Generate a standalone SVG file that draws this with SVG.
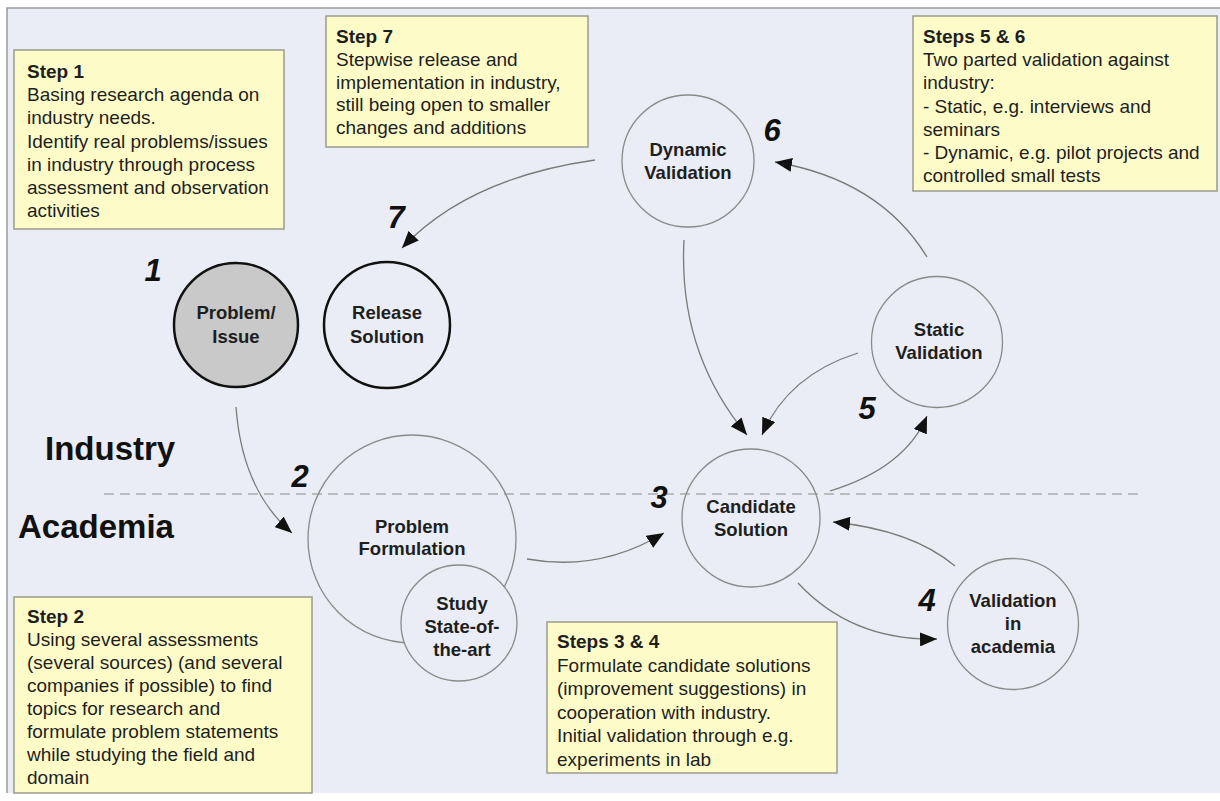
<svg xmlns="http://www.w3.org/2000/svg" width="1220" height="801" viewBox="0 0 1220 801">
<style>
.box{fill:#fdfcc9;stroke:#9a9a8c;stroke-width:1.5}
.bt{font-family:"Liberation Sans",Arial,sans-serif;font-size:19px;fill:#1e1e1e}
.bh{font-weight:bold}
.node{fill:none;stroke:#8a8a8a;stroke-width:1.3}
.nt{font-family:"Liberation Sans",Arial,sans-serif;font-size:18.5px;font-weight:bold;fill:#1e1e1e;text-anchor:middle}
.num{font-family:"Liberation Sans",Arial,sans-serif;font-size:31px;font-weight:bold;font-style:italic;fill:#111;text-anchor:middle}
.zone{font-family:"Liberation Sans",Arial,sans-serif;font-size:33px;font-weight:bold;fill:#111}
.conn{fill:none;stroke:#7a7a7a;stroke-width:1.3}
</style>
<defs>
<marker id="ah" markerUnits="userSpaceOnUse" markerWidth="18" markerHeight="14" refX="17" refY="7" orient="auto">
<path d="M0,0 L17,7 L0,14 z" fill="#111"/>
</marker>
</defs>
<rect x="0" y="0" width="1220" height="801" fill="#ffffff"/>
<rect x="7" y="8" width="1220" height="785" fill="#eaedf5"/>
<path d="M7,793 L7,8 L1220,8" fill="none" stroke="#9a9a9a" stroke-width="1.5"/>

<line x1="104" y1="494" x2="1138" y2="494" stroke="#8a8a8a" stroke-width="1.2" stroke-dasharray="10,6"/>
<text class="zone" x="45" y="460">Industry</text>
<text class="zone" x="18" y="538">Academia</text>

<g id="box-step1">
<rect class="box" x="14" y="50" width="270" height="179"/>
<text class="bt" x="27" y="78"><tspan class="bh">Step 1</tspan><tspan x="27" dy="23.2">Basing research agenda on</tspan><tspan x="27" dy="23.2">industry needs.</tspan><tspan x="27" dy="23.2">Identify real problems/issues</tspan><tspan x="27" dy="23.2">in industry through process</tspan><tspan x="27" dy="23.2">assessment and observation</tspan><tspan x="27" dy="23.2">activities</tspan></text>
</g>
<g id="box-step7">
<rect class="box" x="326" y="16" width="262" height="131"/>
<text class="bt" x="336" y="43"><tspan class="bh">Step 7</tspan><tspan x="336" dy="22.8">Stepwise release and</tspan><tspan x="336" dy="22.8">implementation in industry,</tspan><tspan x="336" dy="22.8">still being open to smaller</tspan><tspan x="336" dy="22.8">changes and additions</tspan></text>
</g>
<g id="box-step56">
<rect class="box" x="913" y="16" width="304" height="175"/>
<text class="bt" x="923" y="43"><tspan class="bh">Steps 5 &amp; 6</tspan><tspan x="923" dy="23.2">Two parted validation against</tspan><tspan x="923" dy="23.2">industry:</tspan><tspan x="923" dy="23.2">- Static, e.g. interviews and</tspan><tspan x="923" dy="23.2">seminars</tspan><tspan x="923" dy="23.2">- Dynamic, e.g. pilot projects and</tspan><tspan x="923" dy="23.2">controlled small tests</tspan></text>
</g>
<g id="box-step2">
<rect class="box" x="14" y="597" width="298" height="196"/>
<text class="bt" x="27" y="623"><tspan class="bh">Step 2</tspan><tspan x="27" dy="23">Using several assessments</tspan><tspan x="27" dy="23">(several sources) (and several</tspan><tspan x="27" dy="23">companies if possible) to find</tspan><tspan x="27" dy="23">topics for research and</tspan><tspan x="27" dy="23">formulate problem statements</tspan><tspan x="27" dy="23">while studying the field and</tspan><tspan x="27" dy="23">domain</tspan></text>
</g>
<g id="box-step34">
<rect class="box" x="547" y="622" width="290" height="151"/>
<text class="bt" x="557" y="648"><tspan class="bh">Steps 3 &amp; 4</tspan><tspan x="557" dy="23.5">Formulate candidate solutions</tspan><tspan x="557" dy="23.5">(improvement suggestions) in</tspan><tspan x="557" dy="23.5">cooperation with industry.</tspan><tspan x="557" dy="23.5">Initial validation through e.g.</tspan><tspan x="557" dy="23.5">experiments in lab</tspan></text>
</g>

<g id="connectors">
<path class="conn" d="M236,407 Q242,490 292,533" marker-end="url(#ah)"/>
<path class="conn" d="M527,559 Q600,572 664,533" marker-end="url(#ah)"/>
<path class="conn" d="M830,491 Q905,468 927,416" marker-end="url(#ah)"/>
<path class="conn" d="M927,257 Q880,180 775,162" marker-end="url(#ah)"/>
<path class="conn" d="M684,240 Q678,352 747,435" marker-end="url(#ah)"/>
<path class="conn" d="M858,353 Q788,375 762,435" marker-end="url(#ah)"/>
<path class="conn" d="M595,160 Q468,178 402,248" marker-end="url(#ah)"/>
<path class="conn" d="M798,583 Q852,641 937,639" marker-end="url(#ah)"/>
<path class="conn" d="M955,566 Q912,530 833,522" marker-end="url(#ah)"/>
</g>

<g id="node-problem-issue">
<circle cx="236" cy="325" r="62" fill="#c9c9c9" stroke="#111" stroke-width="2.5"/>
<text class="nt" x="236" y="319">Problem/</text>
<text class="nt" x="236" y="343">Issue</text>
</g>
<g id="node-release">
<circle cx="387" cy="325" r="63" fill="none" stroke="#111" stroke-width="2.5"/>
<text class="nt" x="387" y="319">Release</text>
<text class="nt" x="387" y="343">Solution</text>
</g>
<g id="node-dynamic">
<circle class="node" cx="688" cy="161" r="66"/>
<text class="nt" x="688" y="156">Dynamic</text>
<text class="nt" x="688" y="179">Validation</text>
</g>
<g id="node-static">
<circle class="node" cx="937" cy="342" r="65.5"/>
<text class="nt" x="939" y="336">Static</text>
<text class="nt" x="939" y="359">Validation</text>
</g>
<g id="node-candidate">
<circle class="node" cx="751" cy="518" r="69"/>
<text class="nt" x="751" y="513">Candidate</text>
<text class="nt" x="751" y="536">Solution</text>
</g>
<g id="node-validation-academia">
<circle class="node" cx="1013" cy="624" r="65.5"/>
<text class="nt" x="1013" y="607">Validation</text>
<text class="nt" x="1013" y="630">in</text>
<text class="nt" x="1013" y="653">academia</text>
</g>
<g id="node-problem-formulation">
<circle class="node" cx="412" cy="539" r="104"/>
<text class="nt" x="412" y="533">Problem</text>
<text class="nt" x="412" y="555">Formulation</text>
</g>
<g id="node-study">
<circle cx="459" cy="623" r="58" fill="#eaedf5" stroke="#8a8a8a" stroke-width="1.3"/>
<text class="nt" x="462" y="610">Study</text>
<text class="nt" x="462" y="633">State-of-</text>
<text class="nt" x="462" y="656">the-art</text>
</g>

<g id="step-numbers">
<text class="num" x="153" y="281">1</text>
<text class="num" x="300" y="487">2</text>
<text class="num" x="659" y="508">3</text>
<text class="num" x="927" y="611">4</text>
<text class="num" x="867" y="419">5</text>
<text class="num" x="772" y="141">6</text>
<text class="num" x="396" y="228">7</text>
</g>
</svg>
